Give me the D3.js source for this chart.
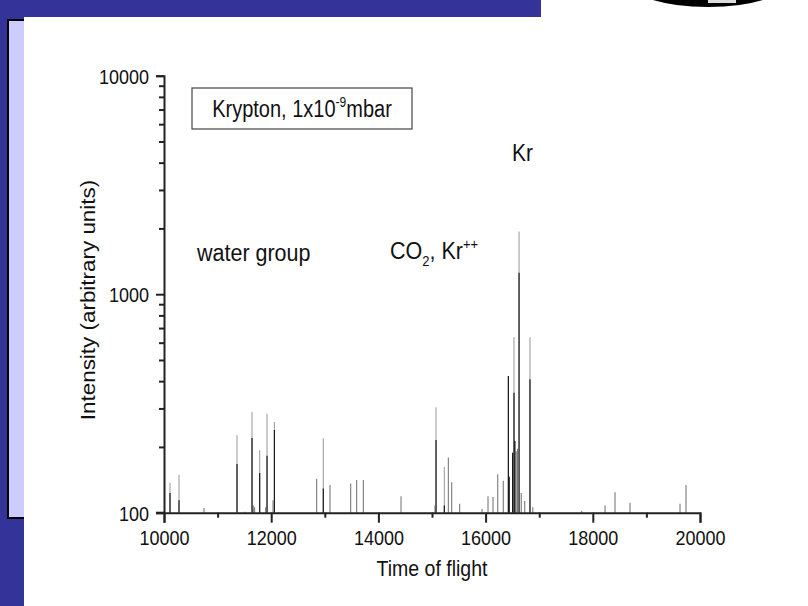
<!DOCTYPE html>
<html>
<head>
<meta charset="utf-8">
<script src="https://cdn.jsdelivr.net/npm/d3@7"></script>
<style>
  html, body { margin: 0; padding: 0; background: #ffffff; }
  svg { display: block; font-family: "Liberation Sans", Arial, sans-serif; }
</style>
</head>
<body>
<svg id="chart" width="808" height="606"></svg>
<script>
// Time-of-flight spectrum, krypton at 1x10^-9 mbar
const tof       = [10112, 10280, 10746, 11362, 11505, 11642, 11665, 11690, 11785, 11897, 11922, 12034, 12060,
                   12848, 12972, 13097, 13483, 13594, 13719, 14422, 15056, 15075, 15230, 15305, 15367, 15516,
                   15933, 16045, 16138, 16226, 16330, 16425, 16440, 16504, 16530, 16545, 16570, 16595, 16624,
                   16665, 16730, 16828, 16880, 17793, 18228, 18414, 18694, 19627, 19739];
// peak height (faint tip of each line)
const peakTop   = [137, 149, 105, 226, 101, 289, 108, 106, 193, 106, 284, 114, 260,
                   143, 219, 134, 136, 141, 141, 119, 108, 304, 162, 179, 138, 110,
                   104, 119, 118, 150, 140, 422, 146, 188, 636, 213, 191, 196, 1937,
                   123, 113, 636, 106, 102, 108, 124, 111, 110, 134];
// dense lower part of each line (0 = none)
const peakCore  = [123, 114, 0, 167, 0, 220, 0, 0, 152, 0, 182, 0, 239,
                   0, 129, 0, 0, 0, 0, 0, 0, 215, 108, 0, 0, 0,
                   0, 0, 0, 0, 0, 422, 146, 188, 354, 213, 0, 0, 1254,
                   0, 0, 408, 0, 0, 0, 0, 0, 0, 0];

const xTicks = [10000, 12000, 14000, 16000, 18000, 20000];
const xMinor = [11000, 13000, 15000, 17000, 19000];
const yTicks = [100, 1000, 10000];
const yMinor = [200, 300, 400, 500, 600, 700, 800, 900, 2000, 3000, 4000, 5000, 6000, 7000, 8000, 9000];

// the slide's lettering is set tall and narrow
const STRETCH = 1.15;

const svg = d3.select("#chart");

// slide background
svg.append("rect").attr("x", 0).attr("y", 0).attr("width", 808).attr("height", 606).attr("fill", "#ffffff");
svg.append("rect").attr("x", 0).attr("y", 0).attr("width", 541).attr("height", 17).attr("fill", "#333399");
svg.append("rect").attr("x", 0).attr("y", 0).attr("width", 24).attr("height", 606).attr("fill", "#333399");
svg.append("rect").attr("x", 8).attr("y", 20).attr("width", 30).attr("height", 498)
  .attr("fill", "#ccccff").attr("stroke", "#000").attr("stroke-width", 2);
svg.append("rect").attr("x", 24).attr("y", 17).attr("width", 784).attr("height", 589).attr("fill", "#ffffff");

// emblem at top right
svg.append("ellipse").attr("cx", 708).attr("cy", -20).attr("rx", 82).attr("ry", 27).attr("fill", "#000");
svg.append("rect").attr("x", 708).attr("y", 0).attr("width", 28).attr("height", 3).attr("fill", "#ddd");

const x = d3.scaleLinear().domain([10000, 20000]).range([164, 700]);
const y = d3.scaleLog().domain([100, 10000]).range([512.7, 75.7]);

// spectrum lines
const peaks = tof.map((t, i) => ({ t, top: peakTop[i], core: peakCore[i] }));
const g = svg.append("g");
g.selectAll("line.tip").data(peaks).enter().append("line")
  .attr("class", "tip")
  .attr("x1", d => x(d.t)).attr("x2", d => x(d.t))
  .attr("y1", y(100)).attr("y2", d => y(d.top))
  .attr("stroke", d => d.core ? "#a0a0a0" : "#7a7a7a").attr("stroke-width", 1.1);
g.selectAll("line.core").data(peaks.filter(d => d.core > 0)).enter().append("line")
  .attr("class", "core")
  .attr("x1", d => x(d.t)).attr("x2", d => x(d.t))
  .attr("y1", y(100)).attr("y2", d => y(d.core))
  .attr("stroke", "#1a1a1a").attr("stroke-width", 1.2);

// axes
const axisColor = "#222";
const xAxis = svg.append("g").attr("transform", `translate(0,${y(100)})`)
  .call(d3.axisBottom(x).tickValues(xTicks).tickSize(10).tickPadding(8).tickFormat(d3.format("d")));
const xAxisMinor = svg.append("g").attr("transform", `translate(0,${y(100)})`)
  .call(d3.axisBottom(x).tickValues(xMinor).tickSize(5).tickFormat(""));
const yAxis = svg.append("g").attr("transform", `translate(${x(10000)},0)`)
  .call(d3.axisLeft(y).tickValues(yTicks).tickSize(8).tickPadding(7).tickFormat(d3.format("d")));
const yAxisMinor = svg.append("g").attr("transform", `translate(${x(10000)},0)`)
  .call(d3.axisLeft(y).tickValues(yMinor).tickSize(5).tickFormat(""));

[xAxis, xAxisMinor, yAxis, yAxisMinor].forEach(a => {
  a.select(".domain").attr("stroke", axisColor).attr("stroke-width", 2);
  a.selectAll(".tick line").attr("stroke", axisColor).attr("stroke-width", 2);
  a.selectAll(".tick text").attr("fill", "#111").attr("font-size", 18)
    .attr("font-family", "'Liberation Sans', Arial, sans-serif");
});
// tall tick lettering: bottom labels keep their baseline ~33px below the axis
xAxis.selectAll(".tick text").attr("dy", 0).attr("y", 32.8 / STRETCH)
  .attr("transform", `scale(1,${STRETCH})`);
yAxis.selectAll(".tick text").attr("dy", "0.36em").attr("transform", `scale(1,${STRETCH})`);
xAxisMinor.select(".domain").remove();
yAxisMinor.select(".domain").remove();
// x axis extends a little left of the y axis
svg.append("line").attr("x1", x(10000) - 8).attr("x2", x(10000))
  .attr("y1", y(100)).attr("y2", y(100)).attr("stroke", axisColor).attr("stroke-width", 2);

// text placed at (px, py) with the tall lettering
function tallText(px, py, size, rotate) {
  const holder = svg.append("g")
    .attr("transform", `translate(${px},${py}) scale(1,${STRETCH})` + (rotate ? ` rotate(${rotate})` : ""));
  return holder.append("text").attr("x", 0).attr("y", 0).attr("font-size", size).attr("fill", "#111");
}

// axis titles
tallText(432, 576, 19.5).attr("text-anchor", "middle").text("Time of flight");
tallText(95, 300, 19.5, -90).attr("text-anchor", "middle").text("Intensity (arbitrary units)");

// legend box
svg.append("rect").attr("x", 192).attr("y", 88).attr("width", 220).attr("height", 41)
  .attr("fill", "none").attr("stroke", "#444").attr("stroke-width", 1.2);
const lg = tallText(302, 117, 20).attr("text-anchor", "middle");
lg.append("tspan").text("Krypton, 1x10");
lg.append("tspan").attr("font-size", 12).attr("dy", -9).text("-9");
lg.append("tspan").attr("dy", 9).text("mbar");

// peak annotations
tallText(512, 161, 21).text("Kr");
tallText(197, 261, 21.5).text("water group");
const co = tallText(390, 259, 21.5);
co.append("tspan").text("CO");
co.append("tspan").attr("font-size", 13).attr("dy", 6).text("2");
co.append("tspan").attr("dy", -6).text(", Kr");
co.append("tspan").attr("font-size", 13).attr("dy", -9).text("++");
</script>
</body>
</html>
